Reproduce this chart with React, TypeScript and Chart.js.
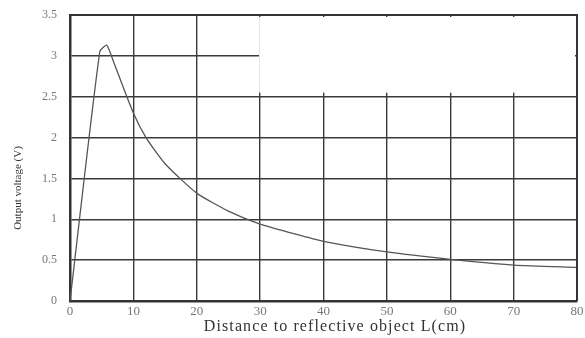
import React, { useEffect, useRef } from "react";
import { Chart, registerables } from "chart.js";

Chart.register(...registerables);

const distances = [0, 4.7, 5.8, 7, 10, 12, 15, 20, 25, 30, 35, 40, 50, 60, 70, 80];
const voltages = [0, 3.05, 3.13, 2.9, 2.3, 2.0, 1.68, 1.32, 1.1, 0.94, 0.83, 0.73, 0.6, 0.51, 0.44, 0.41];
const xTicks = [0, 10, 20, 30, 40, 50, 60, 70, 80];
const yTicks = [0, 0.5, 1, 1.5, 2, 2.5, 3, 3.5];
const xTitle = "Distance to reflective object L(cm)";
const yTitle = "Output voltage (V)";
// blank (occluded) area of the original figure, in data units
const blankX = [30, 80];
const blankY = [2.55, 3.5];

const FONT = "'Liberation Serif', 'DejaVu Serif', serif";

const blankPlugin = {
  id: "blank",
  beforeDatasetsDraw(chart: any) {
    const { ctx, scales } = chart;
    const x = scales.x, y = scales.y;
    const x0 = x.getPixelForValue(blankX[0]) - 1;
    const x1 = x.getPixelForValue(blankX[1]) - 2;
    const y0 = y.getPixelForValue(blankY[1]) + 2;
    const y1 = y.getPixelForValue(blankY[0]);
    ctx.save();
    ctx.fillStyle = "#ffffff";
    ctx.fillRect(x0, y0, x1 - x0, y1 - y0);
    ctx.restore();
  },
};

const titlesPlugin = {
  id: "titles",
  afterDraw(chart: any) {
    const { ctx } = chart;
    ctx.save();
    ctx.fillStyle = "#333333";
    ctx.font = `16px ${FONT}`;
    (ctx as any).letterSpacing = "1.1px";
    ctx.textAlign = "center";
    ctx.textBaseline = "middle";
    ctx.fillText(xTitle, 335, 327);
    (ctx as any).letterSpacing = "0px";
    ctx.translate(18, 188);
    ctx.rotate(-Math.PI / 2);
    ctx.font = `11px ${FONT}`;
    ctx.fillText(yTitle, 0, 0);
    ctx.restore();
  },
};

export default function App() {
  const ref = useRef<HTMLCanvasElement>(null);
  useEffect(() => {
    if (!ref.current) return;
    const chart = new Chart(ref.current, {
      type: "line",
      data: {
        datasets: [
          {
            data: distances.map((d, i) => ({ x: d, y: voltages[i] })),
            borderColor: "#555555",
            borderWidth: 1.3,
            pointRadius: 0,
            tension: 0.2,
            fill: false,
          },
        ],
      },
      options: {
        animation: false,
        responsive: false,
        maintainAspectRatio: false,
        layout: { padding: { top: 15, right: 8, left: 0, bottom: 0 } },
        plugins: { legend: { display: false }, tooltip: { enabled: false } },
        scales: {
          x: {
            type: "linear",
            min: 0,
            max: 80,
            afterBuildTicks: (s: any) => {
              s.ticks = xTicks.map((v) => ({ value: v }));
            },
            afterFit: (s: any) => {
              s.height = 37;
              s.paddingLeft = 0;
              s.paddingRight = 0;
            },
            grid: { color: "#3a3a3a", lineWidth: 1.4, drawTicks: false },
            border: { color: "#333333", width: 2.5 },
            ticks: {
              color: "#777777",
              font: { family: FONT, size: 13 },
              padding: 3,
              maxRotation: 0,
              callback: (v: any) => String(v),
            },
          },
          y: {
            type: "linear",
            min: 0,
            max: 3.5,
            afterBuildTicks: (s: any) => {
              s.ticks = yTicks.map((v) => ({ value: v }));
            },
            afterFit: (s: any) => {
              s.width = 70;
              s.paddingTop = 0;
              s.paddingBottom = 0;
            },
            grid: { color: "#3a3a3a", lineWidth: 1.4, drawTicks: false },
            border: { color: "#333333", width: 2.5 },
            ticks: {
              color: "#777777",
              font: { family: FONT, size: 12 },
              padding: 13,
              callback: (v: any) => String(v),
            },
          },
        },
      },
      plugins: [
        blankPlugin,
        titlesPlugin,
        {
          id: "frame",
          afterDatasetsDraw(chart: any) {
            const { ctx, chartArea } = chart;
            ctx.save();
            ctx.strokeStyle = "#333333";
            ctx.lineWidth = 2;
            ctx.beginPath();
            ctx.moveTo(chartArea.left, chartArea.top);
            ctx.lineTo(chartArea.right, chartArea.top);
            ctx.lineTo(chartArea.right, chartArea.bottom);
            ctx.stroke();
            ctx.restore();
          },
        },
      ],
    });
    return () => chart.destroy();
  }, []);
  return (
    <div style={{ position: "fixed", left: 0, top: 0, width: 585, height: 338, background: "#fff" }}>
      <canvas ref={ref} width={585} height={338} />
    </div>
  );
}
